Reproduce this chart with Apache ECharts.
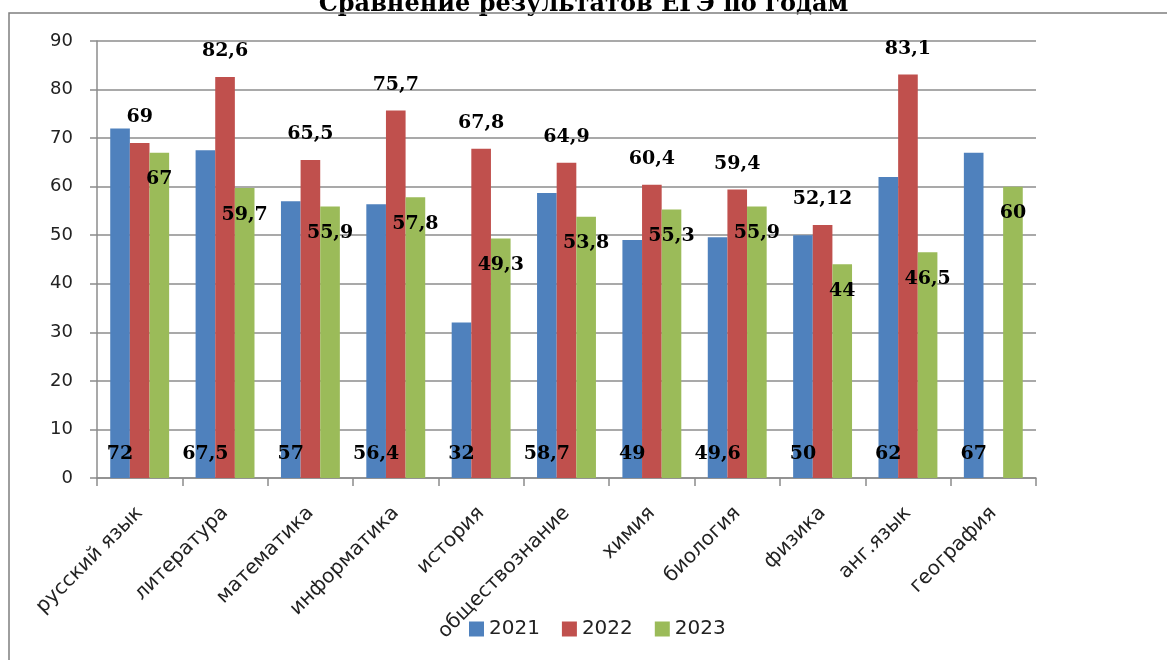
<!DOCTYPE html>
<html>
<head>
<meta charset="utf-8">
<script src="https://cdn.jsdelivr.net/npm/echarts@6/dist/echarts.min.js"></script>
<style>
  html, body { margin: 0; padding: 0; background: #fff; }
  #main { width: 1167px; height: 660px; }
</style>
</head>
<body>
<div id="main"></div>
<script>
const subjects = ['русский язык', 'литература', 'математика', 'информатика', 'история',
  'обществознание', 'химия', 'биология', 'физика', 'анг.язык', 'география']
const years = ['2021', '2022', '2023']
const score2021 = [72, 67.5, 57, 56.4, 32, 58.7, 49, 49.6, 50, 62, 67]
const score2022 = [69, 82.6, 65.5, 75.7, 67.8, 64.9, 60.4, 59.4, 52.12, 83.1, null]
const score2023 = [67, 59.7, 55.9, 57.8, 49.3, 53.8, 55.3, 55.9, 44, 46.5, 60]
const yTicks = [0, 10, 20, 30, 40, 50, 60, 70, 80, 90]

const colors = ['#4F81BD', '#C0504D', '#9BBB59']
const gridColor = '#8c8c8c'

// подписи значений: запятая вместо точки
const labelStyle = (position, distance) => ({
  show: true,
  position: position,
  distance: distance,
  color: '#000',
  fontFamily: 'DejaVu Serif',
  fontWeight: 'bold',
  fontSize: 19,
  formatter: p => String(p.value).replace('.', ',')
})

const values = [score2021, score2022, score2023]
const labelPos = [['insideBottom', 14], ['top', 16], ['insideTop', 17]]

const myChart = echarts.init(document.getElementById('main'))
myChart.setOption({
  animation: false,
  color: colors,
  title: {
    text: 'Сравнение результатов ЕГЭ по годам',
    left: 'center',
    top: -12,
    textStyle: { fontFamily: 'DejaVu Serif', fontWeight: 'bold', fontSize: 24, color: '#000' }
  },
  // рамка диаграммы
  graphic: [{
    type: 'polyline',
    shape: { points: [[9, 660], [9, 13], [1167, 13]] },
    style: { stroke: '#7f7f7f', lineWidth: 1.5, fill: null },
    z: 100
  }],
  legend: {
    data: years,
    left: 464,
    top: 614,
    itemWidth: 15,
    itemHeight: 15,
    itemGap: 22,
    icon: 'rect',
    textStyle: { fontFamily: 'DejaVu Sans', fontSize: 20, color: '#222' }
  },
  grid: { left: 97, right: 131, top: 41, bottom: 182, containLabel: false },
  xAxis: {
    type: 'category',
    data: subjects,
    axisLine: { lineStyle: { color: gridColor, width: 1.5 } },
    axisTick: { show: true, length: 8, lineStyle: { color: gridColor, width: 1.5 } },
    axisLabel: {
      rotate: 45,
      interval: 0,
      margin: 32,
      fontFamily: 'DejaVu Sans',
      fontSize: 20,
      color: '#222'
    }
  },
  yAxis: {
    type: 'value',
    min: yTicks[0],
    max: yTicks[yTicks.length - 1],
    interval: 10,
    axisLine: { show: true, lineStyle: { color: gridColor, width: 1.5 } },
    axisTick: { show: true, length: 7, lineStyle: { color: gridColor, width: 1.5 } },
    splitLine: { lineStyle: { color: gridColor, width: 1.5 } },
    axisLabel: { margin: 24, fontFamily: 'DejaVu Sans', fontSize: 18, color: '#222' }
  },
  series: years.map((y, i) => ({
    name: y,
    type: 'bar',
    data: values[i],
    barGap: '0%',
    barCategoryGap: '31%',
    label: labelStyle(labelPos[i][0], labelPos[i][1])
  }))
})
</script>
</body>
</html>
